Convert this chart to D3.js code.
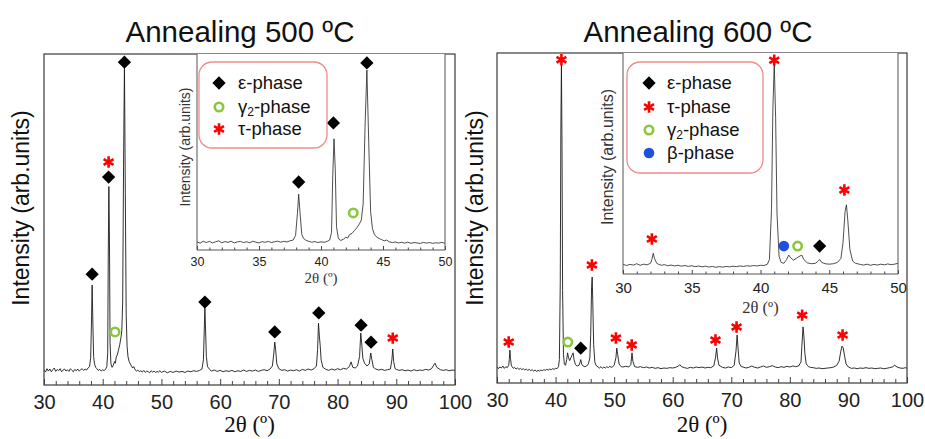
<!DOCTYPE html>
<html>
<head>
<meta charset="utf-8">
<title>XRD - Annealing 500 / 600 ºC</title>
<script src="https://cdn.jsdelivr.net/npm/d3@7"></script>
<style>
  body { margin: 0; background: #fff; }
  svg text { fill: #111; }
  .sans { font-family: "Liberation Sans", Arial, sans-serif; }
  .serif { font-family: "Liberation Serif", "Times New Roman", serif; }
</style>
</head>
<body>
<svg id="chart" class="sans" width="925" height="439"></svg>
<script>
// ---- data (2θ in degrees, intensity in arbitrary units, baseline ~100) ----
var xTicksMain = [30, 40, 50, 60, 70, 80, 90, 100];
var xMinorMain = d3.range(30, 101, 2);
var xTicksInset = [30, 35, 40, 45, 50];
var xMinorInset = d3.range(30, 51, 1);

var pattern500 = [
  [30,100],[30.25,94],[30.5,104],[30.75,97],[31,103],[31.25,95],[31.5,101],[31.75,106],[32,96],[32.25,102],
  [32.5,98],[32.75,104],[33,95],[33.25,100],[33.5,103],[33.75,97],[34,101],[34.25,96],[34.5,104],[34.75,99],
  [35,95],[35.25,102],[35.5,98],[35.75,103],[36,97],[36.25,101],[36.5,104],[36.75,99],[37,103],[37.25,100],
  [37.5,106],[37.75,110],[37.95,135],[38.1,250],[38.2,350],[38.3,260],[38.45,140],[38.6,118],[38.8,108],[39,104],
  [39.25,99],[39.5,102],[39.75,97],[40,101],[40.25,98],[40.5,103],[40.7,110],[40.85,150],[40.95,450],[41.05,640],
  [41.15,480],[41.25,180],[41.4,118],[41.6,108],[41.8,114],[42,125],[42.15,120],[42.3,138],[42.5,145],[42.7,160],
  [42.9,175],[43.1,195],[43.25,215],[43.4,300],[43.55,700],[43.7,1000],[43.85,620],[44,260],[44.15,170],[44.3,140],
  [44.5,125],[44.7,118],[44.9,112],[45.1,106],[45.3,110],[45.5,101],[45.75,97],[46,100],[46.25,95],[46.5,98],
  [46.75,94],[47,99],[47.25,93],[47.5,97],[47.75,95],[48,92],[48.25,98],[48.5,94],[48.75,97],[49,93],
  [49.25,96],[49.5,94],[49.75,98],[50,93],[50.5,97],[51,92],[51.5,96],[52,93],[52.5,97],[53,94],
  [53.5,96],[54,93],[54.5,97],[55,95],[55.5,98],[56,96],[56.5,99],[56.9,103],[57.15,130],[57.3,220],
  [57.4,282],[57.5,230],[57.65,140],[57.85,110],[58.2,102],[58.5,97],[59,100],[59.5,96],[60,99],[60.5,95],
  [61,98],[61.5,96],[62,99],[62.5,95],[63,98],[63.5,96],[64,100],[64.5,96],[65,99],[65.5,97],
  [66,100],[66.5,96],[67,99],[67.5,101],[68,98],[68.5,103],[68.9,112],[69.15,150],[69.3,182],[69.45,160],
  [69.65,118],[70,104],[70.5,99],[71,101],[71.5,97],[72,100],[72.5,98],[73,101],[73.5,97],[74,102],
  [74.5,99],[75,103],[75.5,100],[76,104],[76.4,112],[76.6,160],[76.75,238],[76.9,200],[77.05,170],[77.2,130],
  [77.5,108],[78,102],[78.5,99],[79,103],[79.5,100],[80,104],[80.5,101],[81,105],[81.5,103],[82,110],
  [82.3,124],[82.6,108],[83,106],[83.4,112],[83.75,140],[83.95,209],[84.1,180],[84.3,135],[84.6,120],[85,112],
  [85.4,118],[85.65,150],[85.85,130],[86.1,108],[86.5,103],[87,100],[87.5,102],[88,99],[88.5,101],[89,103],
  [89.25,130],[89.4,162],[89.55,125],[89.8,104],[90,102],[90.5,99],[91,101],[91.5,98],[92,100],[92.5,97],
  [93,101],[93.5,98],[94,100],[94.5,99],[95,102],[95.5,100],[96,104],[96.4,115],[96.6,120],[96.9,108],
  [97.5,101],[98,99],[98.5,101],[99,98],[99.5,100],[100,99]
];

var pattern600 = [
  [30,104],[30.25,98],[30.5,103],[30.75,100],[31,106],[31.25,99],[31.5,104],[31.75,101],[32,108],[32.1,125],
  [32.2,153],[32.3,128],[32.45,108],[32.6,103],[32.8,99],[33,102],[33.25,97],[33.5,100],[33.75,96],[34,99],
  [34.25,95],[34.5,98],[34.75,94],[35,97],[35.25,93],[35.5,96],[35.75,92],[36,95],[36.25,91],[36.5,94],
  [36.75,90],[37,93],[37.25,91],[37.5,94],[37.75,92],[38,95],[38.25,93],[38.5,96],[38.75,94],[39,97],
  [39.25,95],[39.5,98],[39.75,96],[40,99],[40.25,98],[40.5,104],[40.65,125],[40.8,350],[40.9,800],[41,1000],
  [41.1,760],[41.2,330],[41.35,140],[41.5,112],[41.7,108],[41.9,125],[42.05,145],[42.2,132],[42.4,122],[42.6,130],
  [42.8,138],[43,145],[43.15,125],[43.4,110],[43.7,106],[44,108],[44.2,118],[44.3,125],[44.45,112],[44.7,106],
  [45,104],[45.3,106],[45.6,112],[45.85,130],[46,200],[46.15,340],[46.25,370],[46.35,300],[46.5,170],[46.7,118],
  [46.9,108],[47.25,103],[47.5,100],[47.75,104],[48,99],[48.25,103],[48.5,100],[48.75,104],[49,101],[49.25,105],
  [49.5,102],[49.75,104],[50,108],[50.3,130],[50.45,159],[50.6,140],[50.85,112],[51.2,104],[51.5,103],[52,105],
  [52.5,103],[52.85,110],[53.05,145],[53.2,120],[53.5,104],[54,102],[54.5,104],[55,101],[55.5,103],[56,100],
  [56.5,102],[57,99],[57.5,101],[58,98],[58.5,100],[59,99],[59.5,101],[60,100],[60.5,102],[61,106],
  [61.2,110],[61.5,104],[62,101],[62.5,99],[63,102],[63.5,100],[64,103],[64.5,101],[65,103],[65.5,100],
  [66,102],[66.5,101],[67,106],[67.3,130],[67.5,159],[67.65,130],[67.9,108],[68.5,102],[69,100],[69.5,103],
  [70,101],[70.5,108],[70.8,150],[71,198],[71.15,160],[71.35,115],[71.7,104],[72,103],[72.5,100],[73,102],
  [73.5,106],[74,102],[74.5,100],[75,103],[75.5,106],[76,102],[76.5,104],[77,107],[77.5,103],[78,101],
  [78.5,104],[79,102],[79.5,105],[80,103],[80.5,106],[81,104],[81.5,106],[81.9,118],[82.1,180],[82.25,222],
  [82.4,195],[82.55,145],[82.8,112],[83.2,104],[83.5,102],[84,101],[84.5,99],[85,100],[85.5,98],[86,99],
  [86.5,100],[87,101],[87.5,103],[88,108],[88.4,120],[88.7,150],[88.9,165],[89.1,160],[89.35,135],[89.6,112],
  [90,103],[90.5,99],[91,100],[91.5,98],[92,100],[92.5,99],[93,101],[93.5,99],[94,100],[94.5,98],
  [95,99],[95.5,100],[96,98],[96.5,99],[97,101],[97.5,103],[97.9,108],[98.3,103],[98.8,100],[99.3,99],
  [99.7,101],[100,99]
];

// phase markers: [phase, 2θ, intensity level of the marker]
var marks500 = [
  ["eps",38.2,382],["eps",41.0,668],["tau",41.0,712],["eps",43.7,1006],["gamma",42.1,212],
  ["eps",57.4,300],["eps",69.3,212],["eps",76.8,268],["eps",84.0,232],["eps",85.7,182],["tau",89.4,194]
];
var marks500Inset = [
  ["eps",38.2,414],["eps",41.0,723],["eps",43.7,1037],["gamma",42.6,252]
];
var marks600 = [
  ["tau",32.0,177],["tau",41.0,1015],["gamma",42.1,177],["eps",44.3,159],["tau",46.2,406],
  ["tau",50.3,189],["tau",53.0,168],["tau",67.3,183],["tau",70.9,222],["tau",82.1,257],["tau",89.0,198]
];
var marks600Inset = [
  ["tau",32.1,217],["tau",41.0,1018],["tau",46.1,436],["beta",41.7,185],["gamma",42.7,185],["eps",44.3,185]
];

var legend500 = [["eps","ε-phase"],["gamma","γ|2|-phase"],["tau","τ-phase"]];
var legend600 = [["eps","ε-phase"],["tau","τ-phase"],["gamma","γ|2|-phase"],["beta","β-phase"]];

// ---- layout ----
var panels = [
  { title: "Annealing 500 ºC", titleX: 240, data: pattern500, marks: marks500, insetMarks: marks500Inset, legend: legend500,
    main: { l: 44, r: 455, t: 54, b: 385, yd: [56, 1030], ylabX: 29 },
    inset: { l: 197, r: 445, t: 54, b: 250, yd: [58, 1084], tickFont: 12.5, pad: 7, labFont: 15, labY: 283, yFont: 14, ylabX: 190, ylabY: 147 },
    leg: { x: 199, y: 62, w: 128, h: 86, symX: 219, txtX: 238, rows: [83, 107, 129] } },
  { title: "Annealing 600 ºC", titleX: 698, data: pattern600, marks: marks600, insetMarks: marks600Inset, legend: legend600,
    main: { l: 497, r: 907, t: 53, b: 383, yd: [55.5, 1035], ylabX: 483 },
    inset: { l: 623, r: 898, t: 53, b: 274, yd: [60, 1050], tickFont: 15, pad: 8, labFont: 16.5, labY: 313, yFont: 16, ylabX: 613, ylabY: 157 },
    leg: { x: 627, y: 62, w: 136, h: 111, symX: 649, txtX: 667, rows: [83, 107, 130, 153] } }
];

var svg = d3.select("#chart");

function drawMark(g, phase, x, y) {
  if (phase === "eps") {
    g.append("path").attr("d", d3.symbol(d3.symbolSquare, 88)())
      .attr("transform", "translate(" + x + "," + y + ") rotate(45)").attr("fill", "#000");
  } else if (phase === "tau") {
    g.append("path").attr("d", d3.symbol(d3.symbolAsterisk, 92)())
      .attr("transform", "translate(" + x + "," + y + ")")
      .attr("fill", "none").attr("stroke", "#ff0000").attr("stroke-width", 2.6);
  } else if (phase === "gamma") {
    g.append("circle").attr("cx", x).attr("cy", y).attr("r", 4.2)
      .attr("fill", "none").attr("stroke", "#8cc63f").attr("stroke-width", 2.6);
  } else if (phase === "beta") {
    g.append("circle").attr("cx", x).attr("cy", y).attr("r", 5.3).attr("fill", "#1d4fe0");
  }
}

function bottomAxis(g, x, y, major, minor, bigTick, smallTick, pad, font) {
  g.append("g").attr("transform", "translate(0," + y + ")")
    .call(d3.axisBottom(x).tickValues(minor.filter(function (v) { return major.indexOf(v) < 0; }))
      .tickSize(-smallTick).tickSizeOuter(0).tickFormat(""))
    .call(function (a) { a.select(".domain").remove(); a.selectAll("line").attr("stroke", "#444"); });
  var ax = g.append("g").attr("transform", "translate(0," + y + ")")
    .call(d3.axisBottom(x).tickValues(major).tickSize(-bigTick).tickSizeOuter(0).tickPadding(pad));
  ax.attr("font-family", null);
  ax.select(".domain").remove();
  ax.selectAll("line").attr("stroke", "#444");
  ax.selectAll("text").attr("font-size", font).style("fill", "#222");
}

panels.forEach(function (p, pi) {
  var g = svg.append("g");
  var m = p.main;

  g.append("text").attr("x", p.titleX).attr("y", 42).attr("text-anchor", "middle")
    .attr("font-size", 29.5).text(p.title);

  var x = d3.scaleLinear().domain([30, 100]).range([m.l, m.r]);
  var y = d3.scaleLinear().domain(m.yd).range([m.b, m.t]);

  g.append("clipPath").attr("id", "clipMain" + pi).append("rect")
    .attr("x", m.l).attr("y", m.t).attr("width", m.r - m.l).attr("height", m.b - m.t);

  var line = d3.line().x(function (d) { return x(d[0]); }).y(function (d) { return y(d[1]); });
  g.append("path").datum(p.data).attr("clip-path", "url(#clipMain" + pi + ")")
    .attr("d", line).attr("fill", "none").attr("stroke", "#1a1a1a").attr("stroke-width", 0.9);

  bottomAxis(g, x, m.b, xTicksMain, xMinorMain, 6, 4, 10, 20);
  g.append("rect").attr("x", m.l).attr("y", m.t).attr("width", m.r - m.l).attr("height", m.b - m.t)
    .attr("fill", "none").attr("stroke", "#3a3a3a").attr("stroke-width", 1.2);

  g.append("text").attr("class", "serif").attr("x", (m.l + m.r) / 2).attr("y", 432).attr("text-anchor", "middle")
    .attr("font-size", 23).text("2θ (º)");
  g.append("text").attr("transform", "translate(" + m.ylabX + ",208) rotate(-90)")
    .attr("text-anchor", "middle").attr("font-size", 23).text("Intensity (arb.units)");

  p.marks.forEach(function (d) { drawMark(g, d[0], x(d[1]), y(d[2])); });

  // inset: zoom of the 30-50° range
  var n = p.inset;
  var xi = d3.scaleLinear().domain([30, 50]).range([n.l, n.r]);
  var yi = d3.scaleLinear().domain(n.yd).range([n.b, n.t]);
  var gi = g.append("g");
  gi.append("rect").attr("x", n.l).attr("y", n.t).attr("width", n.r - n.l).attr("height", n.b - n.t).attr("fill", "#fff");
  gi.append("clipPath").attr("id", "clipInset" + pi).append("rect")
    .attr("x", n.l).attr("y", n.t).attr("width", n.r - n.l).attr("height", n.b - n.t);
  var lineI = d3.line().x(function (d) { return xi(d[0]); }).y(function (d) { return yi(d[1]); });
  gi.append("path").datum(p.data.filter(function (d) { return d[0] <= 50.5; }))
    .attr("clip-path", "url(#clipInset" + pi + ")")
    .attr("d", lineI).attr("fill", "none").attr("stroke", "#222").attr("stroke-width", 0.8);

  bottomAxis(gi, xi, n.b, xTicksInset, xMinorInset, 4, 2.5, n.pad, n.tickFont);
  gi.append("path").attr("d", "M" + n.l + "," + n.t + "V" + n.b + "H" + n.r + "V" + n.t)
    .attr("fill", "none").attr("stroke", "#555").attr("stroke-width", 1);
  gi.append("text").attr("class", "serif").attr("x", (n.l + n.r) / 2).attr("y", n.labY).attr("text-anchor", "middle")
    .attr("font-size", n.labFont).style("fill", "#333").text("2θ (º)");
  gi.append("text").attr("transform", "translate(" + n.ylabX + "," + n.ylabY + ") rotate(-90)")
    .attr("text-anchor", "middle").attr("font-size", n.yFont).style("fill", "#333").text("Intensity (arb.units)");

  p.insetMarks.forEach(function (d) { drawMark(gi, d[0], xi(d[1]), yi(d[2])); });

  // legend
  var L = p.leg;
  var gl = g.append("g");
  gl.append("rect").attr("x", L.x).attr("y", L.y).attr("width", L.w).attr("height", L.h)
    .attr("rx", 13).attr("fill", "#fff").attr("stroke", "#f08a8a").attr("stroke-width", 1.3);
  p.legend.forEach(function (d, i) {
    var ry = L.rows[i];
    drawMark(gl, d[0], L.symX, ry);
    var parts = d[1].split("|");
    var t = gl.append("text").attr("x", L.txtX).attr("y", ry + 6).attr("font-size", 18.5);
    t.append("tspan").text(parts[0]);
    if (parts.length > 1) {
      t.append("tspan").attr("font-size", 12).attr("dy", 3).text(parts[1]);
      t.append("tspan").attr("dy", -3).text(parts[2]);
    }
  });
});
</script>
</body>
</html>
